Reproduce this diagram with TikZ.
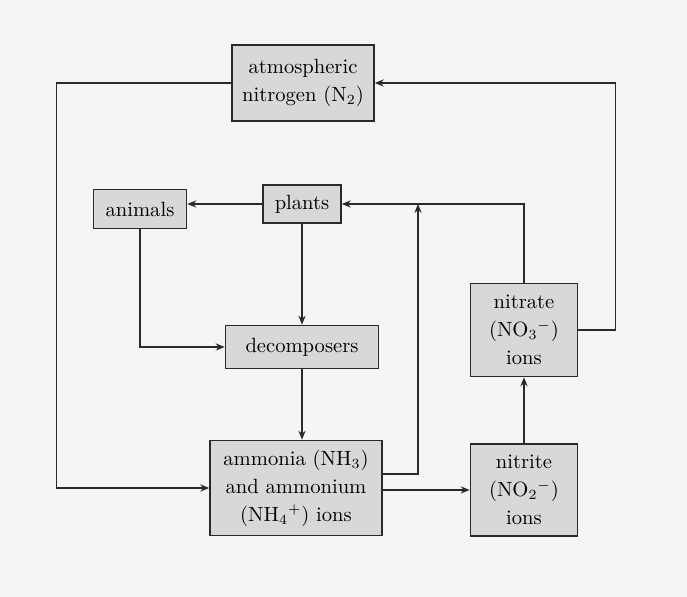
\documentclass[tikz,border=0pt]{standalone}
\usepackage{tikz}
\usetikzlibrary{arrows.meta}
\definecolor{boxgray}{HTML}{D8D8D8}
\definecolor{pagegray}{HTML}{F5F5F3}
\definecolor{inkgray}{HTML}{2A2A2A}
\tikzset{
  box/.style={draw=inkgray, line width=0.8pt, fill=boxgray, align=center, inner sep=1pt,
    font=\fontsize{10.3}{14}\selectfont},
  flow/.style={draw=inkgray, line width=0.6pt, -{Stealth[length=4.5pt,width=3.6pt]}}
}
\begin{document}
\begin{tikzpicture}[x=0.5pt, y=-0.5pt]
		% Page
		\fill[pagegray] (0,0) rectangle (687,597);
		\useasboundingbox (0,0) rectangle (687,597);
		% Boxes
		\node[box, minimum width=71pt, minimum height=38pt] (atm) at (303,83) {atmospheric\\nitrogen (N$_2$)};
		\node[box, minimum width=46.5pt, minimum height=19.5pt] (animals) at (140,209) {animals};
		\node[box, minimum width=39pt, minimum height=19pt] (plants) at (302,204) {plants};
		\node[box, minimum width=76.5pt, minimum height=21.5pt] (decomp) at (302,347) {decomposers};
		\node[box, minimum width=86pt, minimum height=47.5pt] (amm) at (296,488) {ammonia (NH$_3$)\\and ammonium\\(NH$_4{}^+$) ions};
		\node[box, minimum width=53.5pt, minimum height=46pt] (nitrite) at (524,490) {nitrite\\(NO$_2{}^-$)\\ions};
		\node[box, minimum width=53.5pt, minimum height=46.5pt] (nitrate) at (524,330) {nitrate\\(NO$_3{}^-$)\\ions};
		% Free end where the uptake line meets the plants line
		\coordinate (uptake) at (418,204);
		% Connectors
		\draw[flow] (atm.west) -- ++(-175,0) |- (amm.west);
		\draw[flow] (nitrate.east) -- ++(37,0) |- (atm.east);
		\draw[flow] (nitrate.north) |- (plants.east);
		\draw[flow] ([yshift=7pt]amm.east) -| (uptake);
		\draw[flow] (amm.east |- nitrite.west) -- (nitrite.west);
		\draw[flow] (nitrite.north) -- (nitrate.south);
		\draw[flow] (plants.west) -- (plants.west -| animals.east);
		\draw[flow] (plants.south) -- (decomp.north);
		\draw[flow] (animals.south) |- (decomp.west);
		\draw[flow] (decomp.south) -- (decomp.south |- amm.north);
	\end{tikzpicture}
\end{document}
